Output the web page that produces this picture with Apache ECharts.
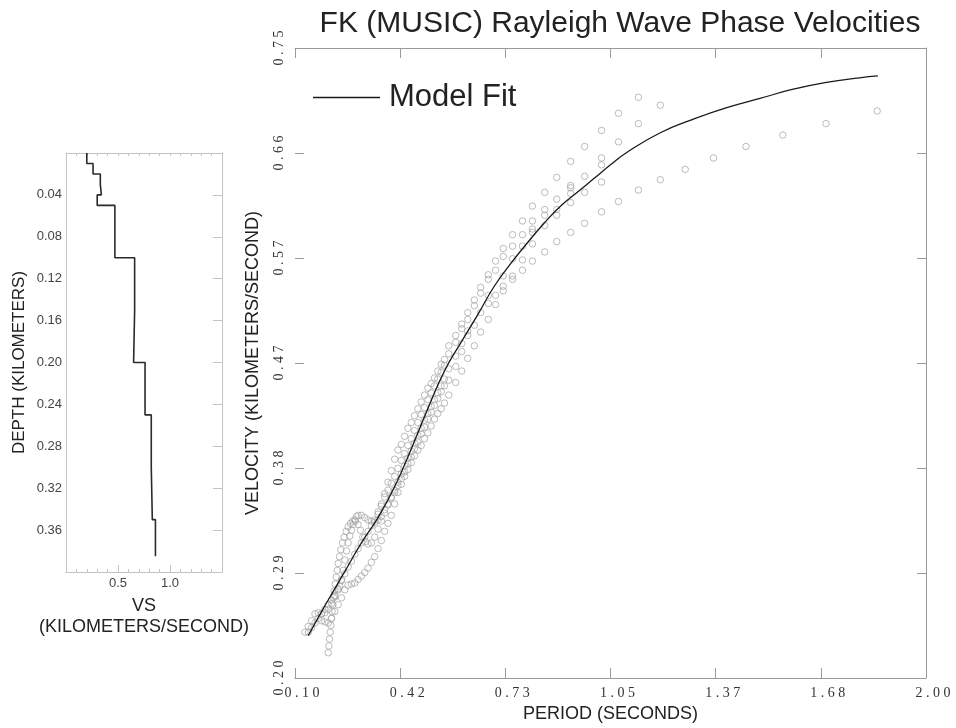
<!DOCTYPE html>
<html><head><meta charset="utf-8">
<script src="https://cdn.jsdelivr.net/npm/echarts@6/dist/echarts.min.js"></script>
<style>html,body{margin:0;padding:0;background:#fff}#c{width:956px;height:728px}</style>
</head><body><div id="c"></div>
<script>
// ---------- Main chart: tick values and labels ----------
const periodTicks = [0.1, 0.41667, 0.73333, 1.05, 1.36667, 1.68333, 2.0];
const periodTickLabels = ['0.10', '0.42', '0.73', '1.05', '1.37', '1.68', '2.00'];
const velocityTicks = [0.2, 0.29167, 0.38333, 0.475, 0.56667, 0.65833, 0.75];
const velocityTickLabels = ['0.20', '0.29', '0.38', '0.47', '0.57', '0.66', '0.75'];

// ---------- Model fit curve ----------
const fitPeriod = [0.14,0.18,0.22,0.26,0.30,0.35,0.40,0.45,0.50,0.55,0.60,0.65,0.70,0.75,0.80,0.85,0.90,0.95,1.00,1.05,1.10,1.20,1.30,1.40,1.50,1.60,1.70,1.80,1.855];
const fitVelocity = [0.237,0.258,0.278,0.298,0.318,0.340,0.367,0.400,0.435,0.468,0.493,0.517,0.542,0.562,0.580,0.597,0.612,0.624,0.636,0.648,0.659,0.676,0.688,0.698,0.706,0.714,0.720,0.724,0.7256];

// ---------- Observed FK dispersion points (several branches) ----------
const branchA_period = [0.14,0.15,0.16,0.17,0.18,0.19,0.20,0.21,0.22,0.23,0.235,0.24,0.245,0.25,0.255,0.26,0.265,0.27,0.275,0.28,0.285,0.29,0.30,0.31,0.32,0.33,0.34,0.35,0.36,0.37,0.38,0.39,0.40,0.41,0.42,0.43,0.44,0.45,0.46,0.47,0.48,0.49,0.50,0.51,0.52,0.53,0.54,0.55,0.563,0.584,0.602,0.620,0.640,0.659,0.682,0.704,0.727,0.755,0.785,0.815,0.852,0.888,0.930,0.972,1.023,1.074,1.134];
const branchA_velocity = [0.240,0.244,0.248,0.252,0.256,0.260,0.264,0.268,0.272,0.277,0.280,0.286,0.294,0.303,0.311,0.318,0.324,0.329,0.334,0.338,0.341,0.342,0.342,0.340,0.338,0.337,0.338,0.343,0.350,0.361,0.371,0.381,0.391,0.399,0.404,0.411,0.418,0.423,0.429,0.435,0.441,0.447,0.453,0.457,0.462,0.468,0.474,0.478,0.490,0.499,0.509,0.519,0.530,0.541,0.552,0.564,0.575,0.587,0.599,0.612,0.624,0.637,0.651,0.664,0.678,0.693,0.707];

const branchB_period = [0.35,0.36,0.37,0.38,0.39,0.40,0.41,0.42,0.43,0.44,0.45,0.46,0.47,0.48,0.49,0.50,0.51,0.52,0.53,0.54,0.55,0.563,0.584,0.602,0.620,0.640,0.659,0.682,0.704,0.727,0.755,0.785,0.815,0.852,0.888,0.930,0.972,1.023,1.074,1.134,1.200];
const branchB_velocity = [0.345,0.352,0.358,0.364,0.370,0.376,0.383,0.390,0.396,0.403,0.409,0.416,0.423,0.430,0.436,0.443,0.449,0.455,0.461,0.467,0.473,0.483,0.493,0.505,0.513,0.525,0.536,0.548,0.556,0.568,0.577,0.587,0.599,0.609,0.618,0.630,0.638,0.654,0.668,0.684,0.700];

const branchC_period = [0.200,0.202,0.204,0.206,0.208,0.210,0.212,0.214,0.216,0.218,0.221,0.224,0.227,0.230,0.234,0.238,0.243,0.248,0.254,0.260,0.267,0.274,0.282,0.290,0.297,0.304,0.312,0.320,0.330,0.340,0.350,0.36,0.37,0.38,0.39,0.40,0.41,0.42,0.43,0.44,0.45,0.46,0.47,0.48,0.49,0.50,0.51,0.52,0.53,0.54,0.55,0.563,0.584,0.602,0.620,0.640,0.659,0.682,0.704,0.727,0.755,0.785,0.815,0.852,0.888,0.930,1.023];
const branchC_velocity = [0.222,0.228,0.234,0.240,0.246,0.252,0.258,0.264,0.270,0.276,0.282,0.288,0.294,0.300,0.306,0.312,0.318,0.323,0.328,0.332,0.335,0.337,0.337,0.334,0.329,0.323,0.319,0.317,0.318,0.323,0.330,0.337,0.344,0.351,0.358,0.364,0.371,0.378,0.385,0.392,0.398,0.405,0.412,0.418,0.425,0.431,0.437,0.443,0.449,0.455,0.461,0.470,0.481,0.492,0.503,0.508,0.519,0.534,0.534,0.551,0.566,0.577,0.592,0.604,0.609,0.628,0.648];

const branchD_period = [0.13,0.14,0.15,0.16,0.17,0.18,0.19,0.20,0.21,0.22,0.23,0.24,0.25,0.26,0.27,0.28,0.29,0.30,0.31,0.32,0.33,0.34,0.35,0.36,0.37,0.38,0.39,0.40,0.41,0.42,0.43,0.44,0.45,0.46,0.47,0.48,0.49,0.50,0.51,0.52,0.53,0.54,0.55,0.563,0.584,0.602,0.620,0.682,0.727,0.755,0.785,0.815,0.815,0.852,0.888,0.930,0.930,0.972,1.023];
const branchD_velocity = [0.240,0.245,0.250,0.256,0.257,0.256,0.257,0.260,0.265,0.271,0.278,0.285,0.291,0.297,0.302,0.308,0.313,0.318,0.323,0.328,0.333,0.336,0.338,0.341,0.347,0.352,0.357,0.362,0.368,0.374,0.380,0.387,0.393,0.400,0.406,0.413,0.419,0.426,0.432,0.438,0.444,0.450,0.455,0.460,0.472,0.485,0.499,0.527,0.542,0.551,0.565,0.579,0.589,0.595,0.604,0.615,0.623,0.624,0.633];

const branchE_period = [0.18,0.19,0.20,0.21,0.22,0.23,0.24,0.25,0.26,0.27,0.28,0.29,0.30,0.31,0.32,0.33,0.34,0.35,0.36,0.37,0.38,0.39,0.40,0.41,0.42,0.43,0.44,0.45,0.46,0.47,0.48,0.49,0.50,0.51,0.52,0.53,0.54,0.55,0.563,0.584,0.602,0.620,0.640,0.659,0.682,0.704,0.727,0.755,0.785,0.815,0.852,0.888,0.930,0.972,1.023,1.074,1.134,1.200,1.275,1.360,1.458,1.569,1.699,1.853];
const branchE_velocity = [0.250,0.249,0.248,0.252,0.258,0.264,0.270,0.277,0.281,0.282,0.283,0.286,0.289,0.292,0.296,0.301,0.306,0.313,0.320,0.328,0.335,0.342,0.352,0.362,0.369,0.376,0.382,0.388,0.394,0.399,0.403,0.409,0.414,0.420,0.426,0.431,0.435,0.440,0.447,0.458,0.468,0.479,0.490,0.502,0.513,0.526,0.538,0.548,0.556,0.564,0.572,0.581,0.589,0.597,0.607,0.616,0.626,0.635,0.644,0.654,0.664,0.674,0.684,0.695];

// ---------- Left panel: shear-wave velocity profile ----------
const layerTopDepth = [0.00,0.01,0.02,0.03,0.04,0.05,0.10,0.15,0.20,0.25,0.30,0.35];
const layerBottomDepth = [0.01,0.02,0.03,0.04,0.05,0.10,0.15,0.20,0.25,0.30,0.35,0.385];
const layerVs = [0.20,0.26,0.33,0.34,0.30,0.47,0.66,0.65,0.76,0.82,0.83,0.86];

// ---------- build ----------
const FONT = 'Liberation Sans';
const SERIF = 'Liberation Serif';
function pairs(xs, ys) { return xs.map((x, i) => [x, ys[i]]); }
function nearestLabel(v, ticks, labels) {
  let best = 0, bd = Infinity;
  ticks.forEach((t, i) => { const d = Math.abs(t - v); if (d < bd) { bd = d; best = i; } });
  return labels[best];
}
function spaced(s) { return s.split('').join(' '); }

const profile = [];
layerVs.forEach((vs, i) => {
  profile.push([vs, layerTopDepth[i]]);
  profile.push([vs, layerBottomDepth[i]]);
});

const boxColor = '#9a9a9a';
const lightBox = '#c4c4c4';
const scatterStyle = { color: 'rgba(0,0,0,0)', borderColor: '#a2a2a2', borderWidth: 0.9 };

const branches = [
  [branchA_period, branchA_velocity],
  [branchB_period, branchB_velocity],
  [branchC_period, branchC_velocity],
  [branchD_period, branchD_velocity],
  [branchE_period, branchE_velocity]
];

const series = branches.map((b, i) => ({
  name: 'FK ' + (i + 1), type: 'scatter', xAxisIndex: 0, yAxisIndex: 0,
  symbol: 'circle', symbolSize: 6.5, itemStyle: scatterStyle, silent: true, z: 2,
  data: pairs(b[0], b[1])
}));
series.push({
  name: 'Model Fit', type: 'line', xAxisIndex: 0, yAxisIndex: 0, smooth: 0.5,
  symbol: 'none', lineStyle: { color: '#1a1a1a', width: 1.3 }, itemStyle: { color: '#1a1a1a' }, z: 5,
  data: pairs(fitPeriod, fitVelocity)
});
series.push({
  name: 'VS', type: 'line', xAxisIndex: 2, yAxisIndex: 2, symbol: 'none',
  lineStyle: { color: '#2a2a2a', width: 1.6 }, data: profile, z: 5
});

const noZero = { onZero: false, show: true };
const chart = echarts.init(document.getElementById('c'), null, { renderer: 'canvas' });
chart.setOption({
  backgroundColor: '#ffffff',
  animation: false,
  title: {
    text: 'FK (MUSIC) Rayleigh Wave Phase Velocities',
    left: 615, top: 4, textAlign: 'center',
    textStyle: { fontFamily: FONT, fontSize: 30, fontWeight: 'normal', color: '#222' }
  },
  legend: {
    data: [{ name: 'Model Fit', icon: 'rect' }], left: 313, top: 82, padding: 0,
    itemWidth: 67, itemHeight: 1.5,
    textStyle: { fontFamily: FONT, fontSize: 31, color: '#222', padding: [0, 0, 0, 4] }
  },
  grid: [
    { left: 295, right: 30, top: 48, bottom: 48 },
    { left: 66, top: 153, width: 156, height: 419 }
  ],
  xAxis: [
    {
      gridIndex: 0, type: 'value', min: 0.1, max: 2.0, position: 'bottom',
      name: 'PERIOD (SECONDS)', nameLocation: 'middle', nameGap: 27,
      nameTextStyle: { fontFamily: FONT, fontSize: 18, color: '#222' },
      axisLine: Object.assign({ lineStyle: { color: boxColor } }, noZero),
      axisTick: { show: true, inside: true, length: 10, customValues: periodTicks, lineStyle: { color: boxColor } },
      axisLabel: { customValues: periodTicks, margin: 8, padding: [0, 0, 0, 14], fontFamily: SERIF, fontSize: 14, color: '#333',
        formatter: v => spaced(nearestLabel(v, periodTicks, periodTickLabels)) },
      splitLine: { show: false }
    },
    {
      gridIndex: 0, type: 'value', min: 0.1, max: 2.0, position: 'top',
      axisLine: Object.assign({ lineStyle: { color: boxColor } }, noZero),
      axisTick: { show: true, inside: true, length: 10, customValues: periodTicks, lineStyle: { color: boxColor } },
      axisLabel: { show: false }, splitLine: { show: false }
    },
    {
      gridIndex: 1, type: 'value', min: 0, max: 1.5, interval: 0.5, position: 'bottom',
      name: 'VS\n(KILOMETERS/SECOND)', nameLocation: 'middle', nameGap: 24,
      nameTextStyle: { fontFamily: FONT, fontSize: 18, color: '#222', lineHeight: 21 },
      axisLine: Object.assign({ lineStyle: { color: lightBox } }, noZero),
      axisTick: { show: true, inside: true, length: 7, lineStyle: { color: lightBox } },
      minorTick: { show: true, splitNumber: 5, length: 3, lineStyle: { color: lightBox } },
      axisLabel: { margin: 5, fontFamily: FONT, fontSize: 13, color: '#444',
        formatter: v => (v > 0.01 && v < 1.49) ? v.toFixed(1) : '' },
      splitLine: { show: false }, minorSplitLine: { show: false }
    },
    {
      gridIndex: 1, type: 'value', min: 0, max: 1.5, interval: 0.5, position: 'top',
      axisLine: Object.assign({ lineStyle: { color: lightBox } }, noZero),
      axisTick: { show: true, inside: true, length: 3, lineStyle: { color: lightBox } },
      minorTick: { show: true, splitNumber: 5, length: 3, lineStyle: { color: lightBox } },
      axisLabel: { show: false }, splitLine: { show: false }
    }
  ],
  yAxis: [
    {
      gridIndex: 0, type: 'value', min: 0.2, max: 0.75, position: 'left',
      name: 'VELOCITY (KILOMETERS/SECOND)', nameLocation: 'middle', nameGap: 33,
      nameTextStyle: { fontFamily: FONT, fontSize: 18, color: '#222' },
      axisLine: { show: false, onZero: false },
      axisTick: { show: true, inside: true, length: 9, customValues: velocityTicks, lineStyle: { color: boxColor } },
      axisLabel: { customValues: velocityTicks, rotate: 90, margin: 9, fontFamily: SERIF, fontSize: 14, color: '#333',
        formatter: v => spaced(nearestLabel(v, velocityTicks, velocityTickLabels)) },
      splitLine: { show: false }
    },
    {
      gridIndex: 0, type: 'value', min: 0.2, max: 0.75, position: 'right',
      axisLine: Object.assign({ lineStyle: { color: boxColor } }, noZero),
      axisTick: { show: true, inside: true, length: 9, customValues: velocityTicks, lineStyle: { color: boxColor } },
      axisLabel: { show: false }, splitLine: { show: false }
    },
    {
      gridIndex: 1, type: 'value', min: 0, max: 0.4, interval: 0.04, inverse: true, position: 'left',
      name: 'DEPTH (KILOMETERS)', nameLocation: 'middle', nameGap: 38,
      nameTextStyle: { fontFamily: FONT, fontSize: 17, color: '#222' },
      axisLine: Object.assign({ lineStyle: { color: lightBox } }, noZero),
      axisTick: { show: false },
      axisLabel: { margin: 4, fontFamily: FONT, fontSize: 13, color: '#444',
        formatter: v => (v > 0.001 && v < 0.399) ? v.toFixed(2) : '' },
      splitLine: { show: false }
    },
    {
      gridIndex: 1, type: 'value', min: 0, max: 0.4, interval: 0.04, inverse: true, position: 'right',
      axisLine: Object.assign({ lineStyle: { color: lightBox } }, noZero),
      axisTick: { show: true, inside: true, length: 9, lineStyle: { color: lightBox } },
      axisLabel: { show: false }, splitLine: { show: false }
    }
  ],
  series: series
});
</script></body></html>
